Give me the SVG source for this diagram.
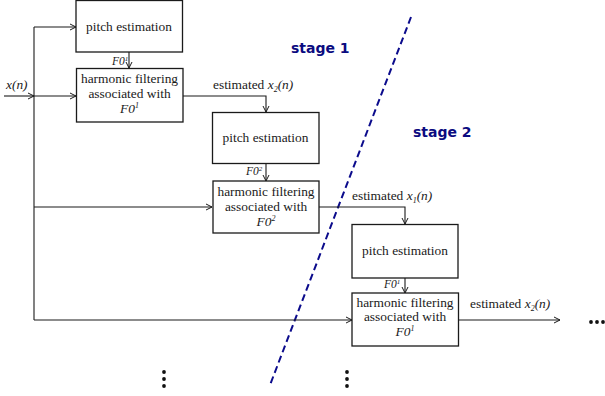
<svg xmlns="http://www.w3.org/2000/svg" width="605" height="396" viewBox="0 0 605 396">
  <style>
    .box { fill: #fff; stroke: #1a1a1a; stroke-width: 1.3; }
    .txt { font-family: "Liberation Serif", "Times New Roman", serif; font-size: 13.4px; fill: #1a1a1a; }
    .it { font-style: italic; }
    .f0 { font-family: "Liberation Serif", "Times New Roman", serif; font-size: 11.5px; font-style: italic; fill: #1a1a1a; }
    .wire { fill: none; stroke: #1a1a1a; stroke-width: 1.1; }
    .stage { font-family: "DejaVu Sans", "Liberation Sans", sans-serif; font-weight: bold; font-size: 14px; fill: #0b0b80; }
    .split { fill: none; stroke: #0b0b8c; stroke-width: 2; stroke-dasharray: 7 4; }
    .dot { fill: #111; }
  </style>
  <defs>
    <marker id="arrow" viewBox="0 0 8 8" refX="7" refY="4" markerWidth="8" markerHeight="8" markerUnits="userSpaceOnUse" orient="auto">
      <path d="M1,1 L7,4 L1,7" fill="none" stroke="#1a1a1a" stroke-width="1"/>
    </marker>
  </defs>

  <!-- stage separator -->
  <line class="split" x1="411" y1="17" x2="270" y2="385"/>
  <text class="stage" x="291" y="53">stage 1</text>
  <text class="stage" x="413" y="137">stage 2</text>

  <!-- connectors -->
  <g id="connectors">
    <!-- input x(n) and its distribution bus -->
    <line class="wire" x1="4" y1="96" x2="34" y2="96" marker-end="url(#arrow)"/>
    <line class="wire" x1="34" y1="96" x2="76" y2="96" marker-end="url(#arrow)"/>
    <line class="wire" x1="34" y1="27" x2="34" y2="320"/>
    <line class="wire" x1="34" y1="27" x2="76" y2="27" marker-end="url(#arrow)"/>
    <line class="wire" x1="34" y1="207" x2="212" y2="207" marker-end="url(#arrow)"/>
    <line class="wire" x1="34" y1="320" x2="352" y2="320" marker-end="url(#arrow)"/>
    <!-- pitch -> filter links -->
    <line class="wire" x1="129" y1="52" x2="129" y2="68" marker-end="url(#arrow)"/>
    <line class="wire" x1="266" y1="163" x2="266" y2="181" marker-end="url(#arrow)"/>
    <line class="wire" x1="405" y1="278" x2="405" y2="293" marker-end="url(#arrow)"/>
    <!-- filter outputs -->
    <polyline class="wire" points="183,96 266,96 266,112" marker-end="url(#arrow)"/>
    <polyline class="wire" points="319,207 405,207 405,224" marker-end="url(#arrow)"/>
    <line class="wire" x1="458" y1="320" x2="560" y2="320" marker-end="url(#arrow)"/>
  </g>

  <!-- connector labels -->
  <text class="txt it" x="6" y="89">x(n)</text>
  <text class="f0" x="112" y="65">F0<tspan font-size="7" dy="-4">1</tspan></text>
  <text class="f0" x="246" y="175">F0<tspan font-size="7" dy="-4">2</tspan></text>
  <text class="f0" x="384" y="288">F0<tspan font-size="7" dy="-4">1</tspan></text>
  <text class="txt" x="213" y="89">estimated <tspan class="it">x</tspan><tspan class="it" font-size="8" dy="3">2</tspan><tspan class="it" dy="-3">(n)</tspan></text>
  <text class="txt" x="352" y="200">estimated <tspan class="it">x</tspan><tspan class="it" font-size="8" dy="3">1</tspan><tspan class="it" dy="-3">(n)</tspan></text>
  <text class="txt" x="470" y="308">estimated <tspan class="it">x</tspan><tspan class="it" font-size="8" dy="3">2</tspan><tspan class="it" dy="-3">(n)</tspan></text>

  <!-- stage 1, first pass -->
  <g id="pitch1">
    <rect class="box" x="76" y="0.5" width="106.5" height="51.5"/>
    <text class="txt" x="129" y="31" text-anchor="middle">pitch estimation</text>
  </g>
  <g id="filter1">
    <rect class="box" x="76.5" y="68.5" width="106.5" height="53.5"/>
    <text class="txt" x="129.5" y="83" text-anchor="middle">harmonic filtering</text>
    <text class="txt" x="129.5" y="98" text-anchor="middle">associated with</text>
    <text class="txt it" x="129.5" y="113" text-anchor="middle">F0<tspan font-size="8" dy="-5">1</tspan></text>
  </g>

  <!-- stage 1, second pass -->
  <g id="pitch2">
    <rect class="box" x="212.5" y="112.5" width="106.5" height="51"/>
    <text class="txt" x="265.5" y="142" text-anchor="middle">pitch estimation</text>
  </g>
  <g id="filter2">
    <rect class="box" x="213" y="181" width="106" height="52"/>
    <text class="txt" x="266" y="196" text-anchor="middle">harmonic filtering</text>
    <text class="txt" x="266" y="211" text-anchor="middle">associated with</text>
    <text class="txt it" x="266" y="226" text-anchor="middle">F0<tspan font-size="8" dy="-5">2</tspan></text>
  </g>

  <!-- stage 2 -->
  <g id="pitch3">
    <rect class="box" x="352" y="224.5" width="106" height="53.5"/>
    <text class="txt" x="405" y="255" text-anchor="middle">pitch estimation</text>
  </g>
  <g id="filter3">
    <rect class="box" x="352" y="293" width="106.5" height="53"/>
    <text class="txt" x="405" y="307" text-anchor="middle">harmonic filtering</text>
    <text class="txt" x="405" y="321" text-anchor="middle">associated with</text>
    <text class="txt it" x="405" y="336" text-anchor="middle">F0<tspan font-size="8" dy="-5">1</tspan></text>
  </g>

  <!-- continuation dots -->
  <g id="more">
    <circle class="dot" cx="591" cy="322" r="1.9"/>
    <circle class="dot" cx="597" cy="322" r="1.9"/>
    <circle class="dot" cx="603" cy="322" r="1.9"/>
    <circle class="dot" cx="164" cy="372" r="1.9"/>
    <circle class="dot" cx="164" cy="379" r="1.9"/>
    <circle class="dot" cx="164" cy="386" r="1.9"/>
    <circle class="dot" cx="347" cy="372" r="1.9"/>
    <circle class="dot" cx="347" cy="379" r="1.9"/>
    <circle class="dot" cx="347" cy="386" r="1.9"/>
  </g>
</svg>
